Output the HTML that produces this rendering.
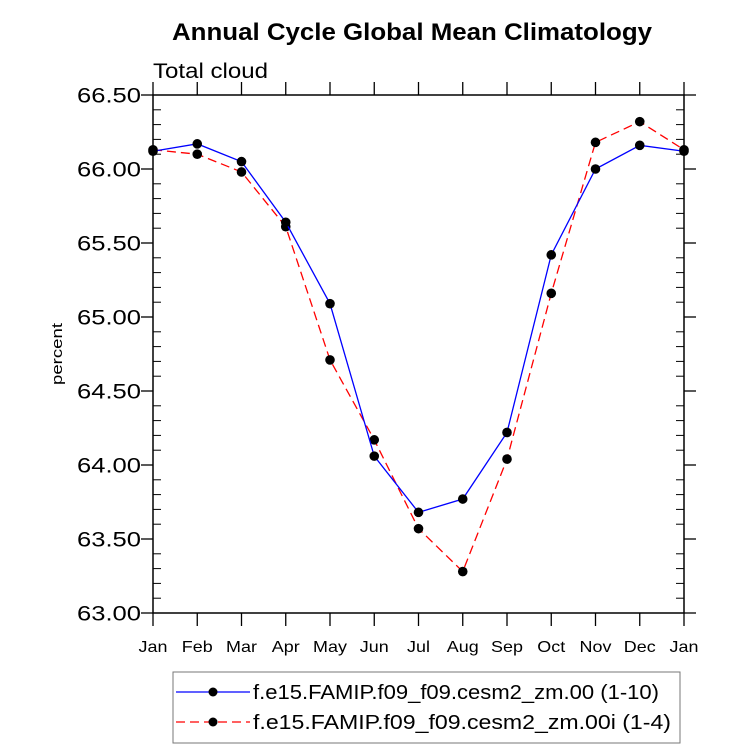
<!DOCTYPE html>
<html><head><meta charset="utf-8"><style>body{margin:0;background:#fff}svg{display:block;font-family:"Liberation Sans",sans-serif}</style></head>
<body>
<svg id="chart" width="733" height="748" viewBox="0 0 733 748" xmlns="http://www.w3.org/2000/svg">
<text x="172" y="40" font-size="24" font-weight="bold" textLength="480" lengthAdjust="spacingAndGlyphs">Annual Cycle Global Mean Climatology</text>
<text x="153" y="78" font-size="21" textLength="115" lengthAdjust="spacingAndGlyphs">Total cloud</text>
<text transform="translate(62,354) rotate(-90)" text-anchor="middle" font-size="15" textLength="62" lengthAdjust="spacingAndGlyphs">percent</text>
<g id="axes"></g>
<g id="series"></g>
<g>
<rect x="173" y="672" width="507" height="71" fill="none" stroke="#777" stroke-width="1"/>
<line x1="176" y1="692" x2="250" y2="692" stroke="#00f" stroke-width="1.2"/>
<circle cx="213" cy="692" r="4.5"/>
<text x="253" y="699" font-size="20" textLength="406" lengthAdjust="spacingAndGlyphs">f.e15.FAMIP.f09_f09.cesm2_zm.00 (1-10)</text>
<line x1="176" y1="722" x2="250" y2="722" stroke="#f00" stroke-width="1.2" stroke-dasharray="9,5"/>
<circle cx="213" cy="722" r="4.5"/>
<text x="253" y="729" font-size="20" textLength="418" lengthAdjust="spacingAndGlyphs">f.e15.FAMIP.f09_f09.cesm2_zm.00i (1-4)</text>
</g>
</svg>
<script>
const months=["Jan","Feb","Mar","Apr","May","Jun","Jul","Aug","Sep","Oct","Nov","Dec","Jan"];
const yTicks=[63.0,63.5,64.0,64.5,65.0,65.5,66.0,66.5];
const blueValues=[66.12,66.17,66.05,65.64,65.09,64.06,63.68,63.77,64.22,65.42,66.00,66.16,66.12];
const redValues=[66.13,66.10,65.98,65.61,64.71,64.17,63.57,63.28,64.04,65.16,66.18,66.32,66.13];
const NS="http://www.w3.org/2000/svg";
const L=153,R=684,T=95,B=613,ymin=63,ymax=66.5;
const xs=i=>L+i*(R-L)/(months.length-1);
const ys=v=>B-(v-ymin)/(ymax-ymin)*(B-T);
function mk(t,a,p){const e=document.createElementNS(NS,t);for(const k in a)e.setAttribute(k,a[k]);p.appendChild(e);return e;}
function widen(t,f){const w=t.getComputedTextLength();t.setAttribute('textLength',w*f);t.setAttribute('lengthAdjust','spacingAndGlyphs');}
const ax=document.getElementById('axes');
const box=mk('rect',{x:L,y:T,width:R-L,height:B-T,fill:'none',stroke:'#000','stroke-width':1.5},ax);


months.forEach((m,i)=>{const x=xs(i);
mk('line',{x1:x,y1:B,x2:x,y2:B+13,stroke:'#000','stroke-width':1.3},ax);
mk('line',{x1:x,y1:T,x2:x,y2:T-13,stroke:'#000','stroke-width':1.3},ax);
const t=mk('text',{x:x,y:B+39,'text-anchor':'middle','font-size':16},ax);t.textContent=m;


widen(t,1.12);});
for(let v=ymin;v<=ymax+1e-6;v+=0.1){const y=ys(v);const major=Math.abs(v*2-Math.round(v*2))<1e-6;
if(!major){mk('line',{x1:L,y1:y,x2:L+8,y2:y,stroke:'#000','stroke-width':1},ax);mk('line',{x1:R,y1:y,x2:R-8,y2:y,stroke:'#000','stroke-width':1},ax);}}
yTicks.forEach(v=>{const y=ys(v);
mk('line',{x1:L-12,y1:y,x2:L,y2:y,stroke:'#000','stroke-width':1.3},ax);
mk('line',{x1:R,y1:y,x2:R+12,y2:y,stroke:'#000','stroke-width':1.3},ax);
const t=mk('text',{x:L-12,y:y+7.5,'text-anchor':'end','font-size':21},ax);t.textContent=v.toFixed(2);


t.setAttribute('textLength',64);t.setAttribute('lengthAdjust','spacingAndGlyphs');});
const sg=document.getElementById('series');
function series(vals,color,dash,name){
const pl=mk('polyline',{points:vals.map((v,i)=>xs(i)+','+ys(v)).join(' '),fill:'none',stroke:color,'stroke-width':1.3,'stroke-dasharray':dash},sg);


vals.forEach((v,i)=>{const c=mk('circle',{cx:xs(i),cy:ys(v),r:4.8,fill:'#000'},sg);

});}
series(redValues,'#f00','9,5','red-series');
series(blueValues,'#00f','none','blue-series');
</script>
</body></html>
